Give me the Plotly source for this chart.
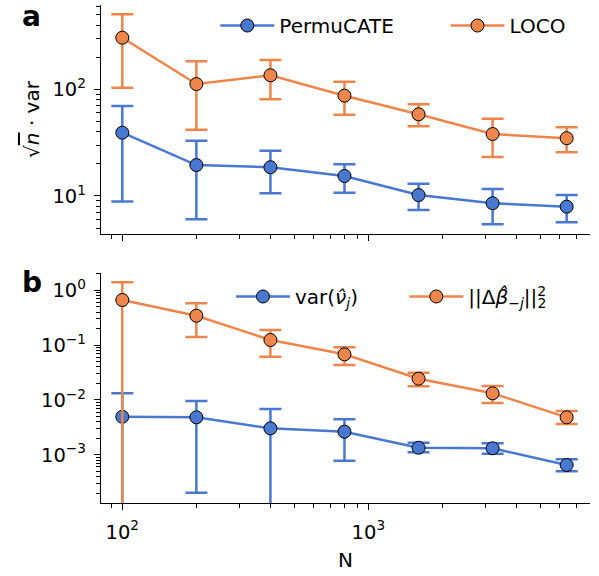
import plotly.graph_objects as go

# ---------------- data ----------------
N = [100, 200, 400, 800, 1600, 3200, 6400]

permucate_mean = [39.2, 19.5, 18.6, 15.4, 10.2, 8.55, 7.94]
permucate_low = [8.9, 6.05, 10.6, 10.7, 7.4, 5.43, 5.67]
permucate_high = [69.7, 33.0, 26.6, 19.8, 13.0, 11.6, 10.2]

loco_mean = [304.5, 112.0, 135.3, 87.1, 58.3, 38.1, 34.8]
loco_low = [103.5, 41.8, 80.6, 57.8, 45.0, 23.2, 25.7]
loco_high = [504.6, 182.8, 188.2, 117.8, 72.3, 53.0, 44.0]

var_nu_mean = [0.00493, 0.00481, 0.00303, 0.00263, 0.00134, 0.00131, 0.000649]
var_nu_low = [-0.0033, 0.000203, -0.00076, 0.000778, 0.00111, 0.00104, 0.000498]
var_nu_high = [0.0132, 0.00955, 0.00682, 0.00443, 0.00166, 0.00162, 0.000824]

beta_mean = [0.665, 0.344, 0.124, 0.0679, 0.0244, 0.0132, 0.00481]
beta_low = [-0.07, 0.1405, 0.0614, 0.0433, 0.0177, 0.00878, 0.00363]
beta_high = [1.40, 0.579, 0.1886, 0.0912, 0.0314, 0.01794, 0.00627]

x_tickvals = [100, 1000]
x_ticktext = ["10<sup>2</sup>", "10<sup>3</sup>"]
top_tickvals = [10, 100]
top_ticktext = ["10<sup>1</sup>", "10<sup>2</sup>"]
bottom_tickvals = [0.001, 0.01, 0.1, 1]
bottom_ticktext = ["10<sup>−3</sup>", "10<sup>−2</sup>", "10<sup>−1</sup>", "10<sup>0</sup>"]

names_top = ["PermuCATE", "LOCO"]
names_bottom = ["var(<i>ν̂</i><sub><i>j</i></sub>)",
                "||Δ<i>β̂</i><sub>−<i>j</i></sub>||"
                "<sup><span style='letter-spacing:-0.62em'>2</span></sup><sub>2</sub>"]

BLUE = "#4878d0"
ORANGE = "#ee854a"
FONT = "DejaVu Sans"

fig = go.Figure()


def add(mean, low, high, color, name, xa, ya, leg):
    fig.add_trace(go.Scatter(
        x=N, y=mean, mode="lines+markers", name=name,
        line=dict(color=color, width=2.5),
        marker=dict(size=13, color=color, line=dict(color="black", width=1)),
        error_y=dict(type="data", symmetric=False,
                     array=[h - m for h, m in zip(high, mean)],
                     arrayminus=[m - l for m, l in zip(mean, low)],
                     color=color, thickness=2.5, width=11),
        xaxis=xa, yaxis=ya, legend=leg, cliponaxis=True))


add(permucate_mean, permucate_low, permucate_high, BLUE, names_top[0], "x", "y", "legend")
add(loco_mean, loco_low, loco_high, ORANGE, names_top[1], "x", "y", "legend2")
add(var_nu_mean, var_nu_low, var_nu_high, BLUE, names_bottom[0], "x2", "y2", "legend3")
add(beta_mean, beta_low, beta_high, ORANGE, names_bottom[1], "x2", "y2", "legend4")

axis_style = dict(
    type="log", showline=True, linecolor="black", linewidth=1.25,
    ticks="outside", ticklen=6, tickwidth=1.25, tickcolor="black",
    tickmode="array", showgrid=False, zeroline=False,
    minor=dict(ticks="outside", ticklen=3.5, tickwidth=1, tickcolor="black",
               showgrid=False, dtick="D1"),
    tickfont=dict(family=FONT, size=19.5, color="black"),
)

xr = [1.9134, 3.901]
fig.update_layout(
    width=599, height=576,
    margin=dict(l=101, r=9, t=5, b=73),
    paper_bgcolor="white", plot_bgcolor="white",
    font=dict(family=FONT, size=20, color="black"),
    xaxis=dict(axis_style, domain=[0, 1], anchor="y", range=xr, showticklabels=False,
               tickvals=x_tickvals, ticktext=x_ticktext),
    yaxis=dict(axis_style, domain=[0.5402, 1], anchor="x", range=[0.644, 2.790],
               tickvals=top_tickvals, ticktext=top_ticktext, ticklabelstandoff=4,
               title=dict(text="√<span style='text-decoration:overline'><i>n</i></span> · var",
                          font=dict(family=FONT, size=20), standoff=7)),
    xaxis2=dict(axis_style, domain=[0, 1], anchor="y2", range=xr,
                tickvals=x_tickvals, ticktext=x_ticktext, ticklabelstandoff=5,
                title=dict(text="N", font=dict(family=FONT, size=20), standoff=10)),
    yaxis2=dict(axis_style, domain=[0, 0.4624], anchor="x2", range=[-3.881, 0.321],
                tickvals=bottom_tickvals, ticktext=bottom_ticktext, ticklabelstandoff=4),
    showlegend=True,
)

leg_common = dict(orientation="h", xanchor="left", yanchor="middle",
                  bgcolor="rgba(0,0,0,0)", borderwidth=0, itemwidth=54,
                  font=dict(family=FONT, size=20, color="black"))
fig.update_layout(
    legend=dict(leg_common, x=0.2337, y=0.9588),
    legend2=dict(leg_common, x=0.7045, y=0.9588),
    legend3=dict(leg_common, x=0.2658, y=0.4147),
    legend4=dict(leg_common, x=0.6202, y=0.4147),
)

fig.add_annotation(text="<b>a</b>", xref="paper", yref="paper", x=-0.1657, y=0.976,
                   xanchor="left", yanchor="middle", showarrow=False,
                   font=dict(family=FONT, size=28, color="black"))
fig.add_annotation(text="<b>b</b>", xref="paper", yref="paper", x=-0.1657, y=0.4418,
                   xanchor="left", yanchor="middle", showarrow=False,
                   font=dict(family=FONT, size=28, color="black"))

fig.write_html("out.html")
